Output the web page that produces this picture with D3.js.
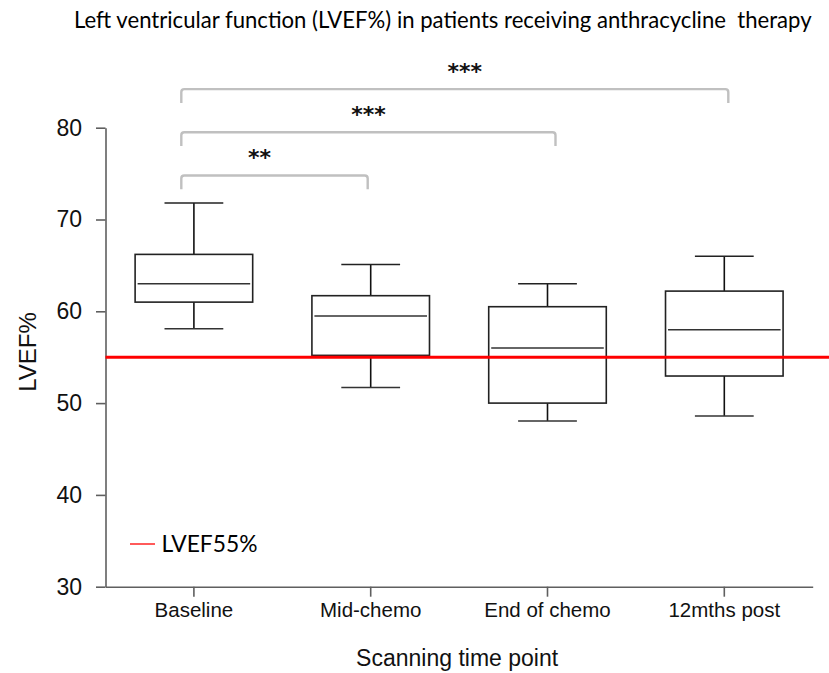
<!DOCTYPE html>
<html>
<head>
<meta charset="utf-8">
<script src="https://cdn.jsdelivr.net/npm/d3@7"></script>
<style>
  html, body { margin: 0; padding: 0; background: #fff; }
  svg { display: block; }
</style>
</head>
<body>
<svg id="chart" width="829" height="673"></svg>
<script>
// LVEF% distribution at each scanning time point (box = quartiles, whiskers = range)
const categories  = ["Baseline", "Mid-chemo", "End of chemo", "12mths post"];
const whiskerHigh = [71.8, 65.1, 63.0, 66.0];
const upperQ      = [66.2, 61.7, 60.5, 62.2];
const medians     = [63.0, 59.5, 56.0, 58.0];
const lowerQ      = [61.0, 55.2, 50.0, 52.95];
const whiskerLow  = [58.1, 51.7, 48.05, 48.6];
const yTicks      = [30, 40, 50, 60, 70, 80];

// Reference threshold line
const thresholdValue = 55;
const thresholdLabel = "LVEF55%";

// Significance brackets against baseline
const compFrom   = ["Baseline", "Baseline", "Baseline"];
const compTo     = ["Mid-chemo", "End of chemo", "12mths post"];
const compLevel  = [74.8, 79.5, 84.2];
const compLabel  = ["**", "***", "***"];

const titleText = "Left ventricular function (LVEF%) in patients receiving anthracycline  therapy";
const xTitle = "Scanning time point";
const yTitle = "LVEF%";

const svg = d3.select("#chart");
const W = 829, H = 673;
svg.append("rect").attr("width", W).attr("height", H).attr("fill", "#fff");

const plot = { left: 105.5, right: 812.7, top: 127.7, bottom: 586.7 };

const y = d3.scaleLinear().domain([30, 80]).range([plot.bottom, plot.top]);
const x = d3.scaleBand().domain(categories).range([plot.left, plot.right]);
const cx = c => x(c) + x.bandwidth() / 2;
const boxW = x.bandwidth() * 0.665;
const capW = boxW / 2;

const axisColor = "#5f5f5f";
const sansFont = "'Liberation Sans', Arial, sans-serif";
const humanFont = "Lato, 'Open Sans', sans-serif";

// Title, fitted to its line
const title = svg.append("text")
  .attr("x", 74).attr("y", 28)
  .attr("font-family", humanFont)
  .attr("font-size", 18)
  .attr("fill", "#000")
  .style("white-space", "pre")
  .text(titleText);
{
  const len = title.node().getComputedTextLength();
  title.attr("font-size", 18 * 738 / len);
}

// Y axis
const yAxis = svg.append("g")
  .attr("transform", `translate(${plot.left},0)`)
  .call(d3.axisLeft(y).tickValues(yTicks).tickSize(9.5).tickSizeOuter(0).tickPadding(14));
yAxis.select(".domain").attr("stroke", axisColor).attr("stroke-width", 1.6);
yAxis.selectAll(".tick line").attr("stroke", axisColor).attr("stroke-width", 1.6);
yAxis.selectAll(".tick text")
  .attr("font-family", sansFont).attr("font-size", 23).attr("fill", "#111");

// X axis
const xAxis = svg.append("g")
  .attr("transform", `translate(0,${plot.bottom})`)
  .call(d3.axisBottom(x).tickSize(10).tickSizeOuter(0).tickPadding(6));
xAxis.select(".domain").attr("stroke", axisColor).attr("stroke-width", 1.6);
xAxis.selectAll(".tick line").attr("stroke", axisColor).attr("stroke-width", 1.6);
xAxis.selectAll(".tick text")
  .attr("font-family", sansFont).attr("font-size", 20.5).attr("fill", "#111");

// Axis titles
svg.append("text")
  .attr("x", (plot.left + plot.right) / 2 - 2).attr("y", 666)
  .attr("text-anchor", "middle")
  .attr("font-family", sansFont).attr("font-size", 23).attr("fill", "#111")
  .text(xTitle);

svg.append("text")
  .attr("transform", `translate(36,${352}) rotate(-90)`)
  .attr("text-anchor", "middle")
  .attr("font-family", sansFont).attr("font-size", 24).attr("fill", "#111")
  .text(yTitle);

// Box plots
const boxes = categories.map((c, i) => ({
  cat: c, hi: whiskerHigh[i], q3: upperQ[i], med: medians[i], q1: lowerQ[i], lo: whiskerLow[i]
}));

const g = svg.append("g").attr("class", "boxes");
const b = g.selectAll("g").data(boxes).join("g");

// whisker stems
b.append("line")
  .attr("x1", d => cx(d.cat)).attr("x2", d => cx(d.cat))
  .attr("y1", d => y(d.hi)).attr("y2", d => y(d.q3))
  .attr("stroke", "#111").attr("stroke-width", 1.6);
b.append("line")
  .attr("x1", d => cx(d.cat)).attr("x2", d => cx(d.cat))
  .attr("y1", d => y(d.q1)).attr("y2", d => y(d.lo))
  .attr("stroke", "#111").attr("stroke-width", 1.6);
// caps
b.append("line")
  .attr("x1", d => cx(d.cat) - capW / 2).attr("x2", d => cx(d.cat) + capW / 2)
  .attr("y1", d => y(d.hi)).attr("y2", d => y(d.hi))
  .attr("stroke", "#222").attr("stroke-width", 1.6);
b.append("line")
  .attr("x1", d => cx(d.cat) - capW / 2).attr("x2", d => cx(d.cat) + capW / 2)
  .attr("y1", d => y(d.lo)).attr("y2", d => y(d.lo))
  .attr("stroke", "#333").attr("stroke-width", 1.6);
// box
b.append("rect")
  .attr("x", d => cx(d.cat) - boxW / 2).attr("width", boxW)
  .attr("y", d => y(d.q3)).attr("height", d => y(d.q1) - y(d.q3))
  .attr("fill", "#fff").attr("stroke", "#222").attr("stroke-width", 1.6);
// median
b.append("line")
  .attr("x1", d => cx(d.cat) - boxW / 2 + 2.5).attr("x2", d => cx(d.cat) + boxW / 2 - 2.5)
  .attr("y1", d => y(d.med)).attr("y2", d => y(d.med))
  .attr("stroke", "#333").attr("stroke-width", 1.5);

// Threshold line
svg.append("line")
  .attr("x1", plot.left).attr("x2", W)
  .attr("y1", y(thresholdValue)).attr("y2", y(thresholdValue))
  .attr("stroke", "#ff0000").attr("stroke-width", 3);

// Legend
svg.append("line")
  .attr("x1", 130).attr("x2", 155).attr("y1", 544).attr("y2", 544)
  .attr("stroke", "#ff0000").attr("stroke-width", 1.3);
const legText = svg.append("text")
  .attr("x", 161.5).attr("y", 552)
  .attr("font-family", humanFont).attr("font-size", 21).attr("fill", "#000")
  .text(thresholdLabel);
{
  const len = legText.node().getComputedTextLength();
  legText.attr("font-size", 21 * 96 / len);
}

// Significance brackets
const comps = compFrom.map((f, i) => ({ from: f, to: compTo[i], level: compLevel[i], label: compLabel[i] }));
const bracketDrop = 1.5;          // data units
const leftInset = 12.6;           // px, bracket start left of the baseline box centre
const rightShift = [-3, 8, 4];    // px, bracket end relative to the target box centre
const labelNudge = [-15, 0, 10];  // px, horizontal nudge of each label
const br = svg.append("g").attr("class", "brackets");
comps.forEach((c, i) => {
  const x0 = cx(c.from) - leftInset;
  const x1 = cx(c.to) + rightShift[i];
  const yl = y(c.level), yb = y(c.level - bracketDrop);
  const r = 3;
  br.append("path")
    .attr("d", `M${x0},${yb} V${yl + r} Q${x0},${yl} ${x0 + r},${yl} H${x1 - r} Q${x1},${yl} ${x1},${yl + r} V${yb}`)
    .attr("fill", "none").attr("stroke", "#c0c0c0").attr("stroke-width", 2.4);
  br.append("text")
    .attr("x", (x0 + x1) / 2 + labelNudge[i])
    .attr("y", y(c.level + 2.4) + 12)
    .attr("text-anchor", "middle")
    .attr("font-family", "'DejaVu Sans', sans-serif").attr("font-size", 22)
    .attr("font-weight", "bold").attr("fill", "#111")
    .text(c.label);
});
</script>
</body>
</html>
